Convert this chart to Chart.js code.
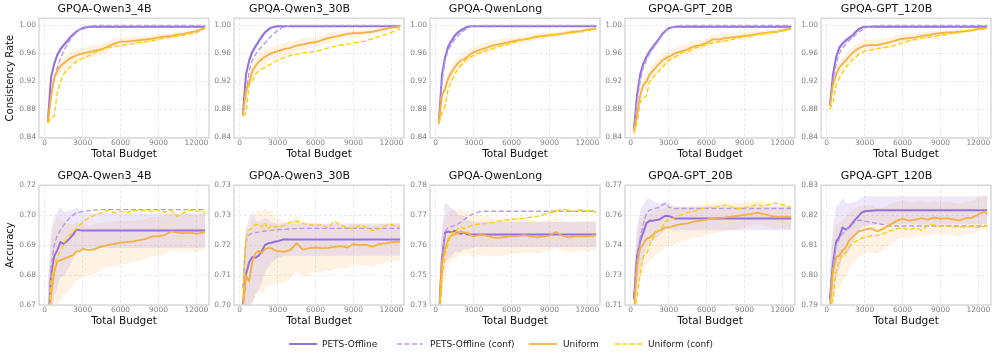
<!DOCTYPE html>
<html><head><meta charset="utf-8">
<script src="https://cdn.jsdelivr.net/npm/chart.js@4.4.0/dist/chart.umd.min.js"></script>
<style>
html,body{margin:0;padding:0;background:#fff;}
#wrap{position:relative;width:997px;height:358px;overflow:hidden;font-family:"DejaVu Sans",sans-serif;}
#wrap canvas{position:absolute;}
.lg{position:absolute;top:338px;font-size:9px;color:#222;line-height:12px;white-space:nowrap;}
.ls{position:absolute;top:339px;}
</style></head><body><div id="wrap"></div>
<script>
// ---------------- DATA ----------------
const BUDGET = [250,500,750,1000,1250,1500,1750,2000,2250,2500,2750,3000,
  3500,4000,4500,5000,5500,6000,6500,7000,7500,8000,
  8500,9000,9500,10000,10500,11000,11500,12000,12500,12700];
const X_TICKS = [0,3000,6000,9000,12000];
const SERIES_NAMES = ['PETS-Offline','PETS-Offline (conf)','Uniform','Uniform (conf)'];
const TITLES = ['GPQA-Qwen3_4B','GPQA-Qwen3_30B','GPQA-QwenLong','GPQA-GPT_20B','GPQA-GPT_120B'];

const CONS_TICKS = [0.84,0.88,0.92,0.96,1.00];
const CONS_TICK_LABELS = ['0.84','0.88','0.92','0.96','1.00'];
const ACC_TICKS_Q4B = [0.668,0.680,0.692,0.704,0.716];
const ACC_LABELS_Q4B = ['0.67','0.68','0.69','0.70','0.72'];
const ACC_TICKS_Q30B = [0.70,0.70875,0.7175,0.72625,0.735];
const ACC_LABELS_Q30B = ['0.70','0.71','0.72','0.73','0.73'];
const ACC_TICKS_QLONG = [0.735,0.745,0.755,0.765,0.775];
const ACC_LABELS_QLONG = ['0.73','0.75','0.76','0.77','0.78'];
const ACC_TICKS_G20B = [0.71,0.725,0.74,0.755,0.77];
const ACC_LABELS_G20B = ['0.71','0.73','0.74','0.76','0.77'];
const ACC_TICKS_G120B = [0.79,0.80,0.81,0.82,0.83];
const ACC_LABELS_G120B = ['0.79','0.80','0.81','0.82','0.83'];

// Consistency rate — Qwen3_4B
const C_Q4B_PETS  = [0.862,0.926,0.945,0.958,0.966,0.972,0.977,0.983,0.987,0.991,0.994,0.996, 0.998,0.998,0.998,0.998,0.998,0.998,0.998,0.998,0.998,0.998, 0.998,0.998,0.998,0.998,0.998,0.998,0.998,0.998,0.998,0.998];
const C_Q4B_PCONF = [0.862,0.900,0.925,0.940,0.953,0.963,0.972,0.979,0.985,0.990,0.994,0.997, 0.999,1.000,1.000,1.000,1.000,1.000,1.000,1.000,1.000,1.000, 1.000,1.000,1.000,1.000,1.000,1.000,1.000,1.000,1.000,1.000];
const C_Q4B_UNI   = [0.862,0.897,0.925,0.935,0.942,0.946,0.949,0.953,0.955,0.957,0.959,0.960, 0.962,0.964,0.966,0.970,0.974,0.977,0.977,0.978,0.979,0.980, 0.981,0.983,0.984,0.985,0.987,0.988,0.990,0.992,0.995,0.997];
const C_Q4B_UCONF = [0.860,0.868,0.870,0.905,0.920,0.930,0.937,0.940,0.944,0.948,0.951,0.953, 0.957,0.962,0.965,0.968,0.970,0.971,0.973,0.974,0.976,0.977, 0.978,0.980,0.982,0.983,0.985,0.986,0.988,0.990,0.994,0.996];
const C_Q4B_PBAND = [0.004,0.006,0.006,0.005,0.005,0.004,0.004,0.003,0.003,0.002,0.002,0.002, 0.001,0.001,0.001,0.001,0.001,0.001,0.001,0.001,0.001,0.001, 0.001,0.001,0.001,0.001,0.001,0.001,0.001,0.001,0.001,0.001];
const C_Q4B_UBAND = [0.006,0.008,0.009,0.009,0.009,0.009,0.009,0.009,0.009,0.009,0.009,0.009, 0.009,0.008,0.008,0.008,0.007,0.007,0.006,0.006,0.006,0.005, 0.005,0.005,0.004,0.004,0.004,0.003,0.003,0.003,0.002,0.002];

// Consistency rate — Qwen3_30B
const C_Q30B_PETS  = [0.872,0.930,0.950,0.962,0.970,0.977,0.984,0.990,0.994,0.997,0.998,0.999, 0.999,0.999,0.999,0.999,0.999,0.999,0.999,0.999,0.999,0.999, 0.999,0.999,0.999,0.999,0.999,0.999,0.999,0.999,0.999,0.999];
const C_Q30B_PCONF = [0.872,0.900,0.935,0.950,0.958,0.965,0.970,0.975,0.980,0.985,0.989,0.993, 0.998,1.000,1.000,1.000,1.000,1.000,1.000,1.000,1.000,1.000, 1.000,1.000,1.000,1.000,1.000,1.000,1.000,1.000,1.000,1.000];
const C_Q30B_UNI   = [0.872,0.909,0.918,0.935,0.942,0.948,0.952,0.955,0.958,0.960,0.962,0.963, 0.966,0.968,0.971,0.973,0.975,0.976,0.979,0.982,0.984,0.986, 0.988,0.989,0.989,0.990,0.991,0.993,0.995,0.997,0.998,0.999];
const C_Q30B_UCONF = [0.870,0.875,0.915,0.920,0.930,0.935,0.938,0.940,0.943,0.945,0.948,0.950, 0.954,0.957,0.959,0.961,0.962,0.963,0.965,0.968,0.970,0.972, 0.973,0.975,0.976,0.978,0.981,0.984,0.987,0.990,0.994,0.996];
const C_Q30B_PBAND = [0.004,0.006,0.006,0.005,0.005,0.004,0.004,0.003,0.003,0.002,0.002,0.002, 0.001,0.001,0.001,0.001,0.001,0.001,0.001,0.001,0.001,0.001, 0.001,0.001,0.001,0.001,0.001,0.001,0.001,0.001,0.001,0.001];
const C_Q30B_UBAND = [0.006,0.009,0.010,0.010,0.010,0.010,0.010,0.010,0.010,0.009,0.009,0.009, 0.009,0.009,0.008,0.008,0.008,0.007,0.007,0.007,0.006,0.006, 0.005,0.005,0.005,0.004,0.004,0.004,0.003,0.003,0.002,0.002];

// Consistency rate — QwenLong
const C_QL_PETS  = [0.860,0.930,0.955,0.970,0.978,0.985,0.990,0.993,0.996,0.998,0.999,0.999, 0.999,0.999,0.999,0.999,0.999,0.999,0.999,0.999,0.999,0.999, 0.999,0.999,0.999,0.999,0.999,0.999,0.999,0.999,0.999,0.999];
const C_QL_PCONF = [0.860,0.920,0.950,0.965,0.973,0.980,0.985,0.990,0.993,0.996,0.998,0.999, 1.000,1.000,1.000,1.000,1.000,1.000,1.000,1.000,1.000,1.000, 1.000,1.000,1.000,1.000,1.000,1.000,1.000,1.000,1.000,1.000];
const C_QL_UNI   = [0.860,0.900,0.910,0.925,0.933,0.940,0.946,0.950,0.952,0.955,0.959,0.962, 0.965,0.968,0.971,0.973,0.975,0.977,0.979,0.980,0.982,0.984, 0.985,0.986,0.987,0.988,0.990,0.991,0.992,0.994,0.995,0.996];
const C_QL_UCONF = [0.860,0.875,0.885,0.910,0.920,0.930,0.937,0.943,0.948,0.953,0.955,0.957, 0.961,0.964,0.967,0.970,0.972,0.975,0.977,0.980,0.981,0.983, 0.984,0.986,0.987,0.988,0.989,0.990,0.991,0.993,0.994,0.995];
const C_QL_PBAND = [0.004,0.006,0.006,0.005,0.004,0.004,0.003,0.003,0.002,0.002,0.001,0.001, 0.001,0.001,0.001,0.001,0.001,0.001,0.001,0.001,0.001,0.001, 0.001,0.001,0.001,0.001,0.001,0.001,0.001,0.001,0.001,0.001];
const C_QL_UBAND = [0.006,0.009,0.009,0.009,0.009,0.009,0.009,0.009,0.009,0.009,0.009,0.009, 0.008,0.008,0.008,0.007,0.007,0.006,0.006,0.006,0.005,0.005, 0.005,0.004,0.004,0.004,0.003,0.003,0.003,0.002,0.002,0.002];

// Consistency rate — GPT_20B
const C_G20B_PETS  = [0.850,0.900,0.930,0.945,0.955,0.963,0.969,0.975,0.981,0.988,0.992,0.996, 0.998,0.998,0.998,0.998,0.998,0.998,0.998,0.998,0.998,0.998, 0.998,0.998,0.998,0.998,0.998,0.998,0.998,0.998,0.998,0.998];
const C_G20B_PCONF = [0.850,0.890,0.920,0.940,0.951,0.960,0.967,0.973,0.979,0.986,0.991,0.995, 0.999,1.000,1.000,1.000,1.000,1.000,1.000,1.000,1.000,1.000, 1.000,1.000,1.000,1.000,1.000,1.000,1.000,1.000,1.000,1.000];
const C_G20B_UNI   = [0.850,0.870,0.900,0.915,0.920,0.930,0.935,0.940,0.945,0.950,0.953,0.955, 0.960,0.963,0.966,0.970,0.972,0.975,0.980,0.980,0.982,0.983, 0.984,0.985,0.986,0.988,0.989,0.990,0.991,0.993,0.995,0.996];
const C_G20B_UCONF = [0.845,0.860,0.890,0.895,0.900,0.920,0.925,0.930,0.935,0.940,0.945,0.950, 0.955,0.960,0.963,0.967,0.970,0.973,0.975,0.977,0.978,0.980, 0.982,0.984,0.985,0.987,0.988,0.990,0.991,0.992,0.994,0.995];
const C_G20B_PBAND = [0.004,0.006,0.006,0.006,0.005,0.005,0.004,0.004,0.003,0.003,0.002,0.002, 0.001,0.001,0.001,0.001,0.001,0.001,0.001,0.001,0.001,0.001, 0.001,0.001,0.001,0.001,0.001,0.001,0.001,0.001,0.001,0.001];
const C_G20B_UBAND = [0.006,0.009,0.010,0.010,0.010,0.010,0.010,0.009,0.009,0.009,0.009,0.009, 0.009,0.008,0.008,0.008,0.007,0.007,0.007,0.006,0.006,0.006, 0.005,0.005,0.005,0.004,0.004,0.004,0.003,0.003,0.002,0.002];

// Consistency rate — GPT_120B
const C_G120B_PETS  = [0.885,0.930,0.955,0.968,0.974,0.978,0.982,0.985,0.990,0.994,0.997,0.998, 0.998,0.998,0.998,0.998,0.998,0.998,0.998,0.998,0.998,0.998, 0.998,0.998,0.998,0.998,0.998,0.998,0.998,0.998,0.998,0.998];
const C_G120B_PCONF = [0.885,0.920,0.945,0.960,0.967,0.973,0.978,0.982,0.986,0.990,0.993,0.996, 0.999,1.000,1.000,1.000,1.000,1.000,1.000,1.000,1.000,1.000, 1.000,1.000,1.000,1.000,1.000,1.000,1.000,1.000,1.000,1.000];
const C_G120B_UNI   = [0.885,0.915,0.930,0.940,0.945,0.950,0.955,0.960,0.964,0.967,0.969,0.971, 0.972,0.972,0.974,0.976,0.979,0.981,0.982,0.983,0.985,0.986, 0.988,0.989,0.990,0.990,0.991,0.992,0.993,0.995,0.996,0.997];
const C_G120B_UCONF = [0.880,0.890,0.915,0.925,0.933,0.940,0.945,0.950,0.954,0.958,0.961,0.963, 0.965,0.967,0.968,0.970,0.972,0.975,0.978,0.980,0.982,0.983, 0.984,0.986,0.987,0.989,0.990,0.992,0.993,0.994,0.995,0.996];
const C_G120B_PBAND = [0.005,0.006,0.006,0.005,0.005,0.004,0.004,0.003,0.003,0.002,0.002,0.001, 0.001,0.001,0.001,0.001,0.001,0.001,0.001,0.001,0.001,0.001, 0.001,0.001,0.001,0.001,0.001,0.001,0.001,0.001,0.001,0.001];
const C_G120B_UBAND = [0.006,0.008,0.009,0.009,0.009,0.009,0.009,0.009,0.009,0.008,0.008,0.008, 0.008,0.008,0.007,0.007,0.007,0.006,0.006,0.006,0.005,0.005, 0.005,0.004,0.004,0.004,0.003,0.003,0.003,0.002,0.002,0.002];

// Accuracy — Qwen3_4B
const A_Q4B_PETS  = [0.655,0.680,0.6875,0.690,0.6932,0.6925,0.6935,0.6948,0.6962,0.6982,0.698,0.6978, 0.6978,0.6978,0.6978,0.6978,0.6978,0.6978,0.6978,0.6978,0.6978,0.6978, 0.6978,0.6978,0.6978,0.6978,0.6978,0.6978,0.6978,0.6978,0.6978,0.698];
const A_Q4B_PCONF = [0.658,0.683,0.692,0.696,0.698,0.700,0.7015,0.703,0.704,0.705,0.7052,0.7055, 0.7058,0.706,0.7062,0.7062,0.7062,0.7062,0.7062,0.7062,0.7062,0.7062, 0.7062,0.7062,0.7062,0.7062,0.7062,0.7062,0.7062,0.7062,0.7062,0.7062];
const A_Q4B_UNI   = [0.652,0.672,0.681,0.6855,0.686,0.6865,0.687,0.6875,0.688,0.6895,0.6895,0.6905, 0.690,0.6905,0.6915,0.692,0.6925,0.693,0.6932,0.6935,0.694,0.6945, 0.6955,0.6955,0.696,0.6975,0.697,0.6968,0.697,0.6965,0.697,0.6975];
const A_Q4B_UCONF = [0.655,0.677,0.684,0.687,0.690,0.692,0.695,0.696,0.6975,0.6985,0.700,0.701, 0.703,0.704,0.705,0.706,0.705,0.7055,0.705,0.706,0.7055,0.706, 0.7055,0.706,0.7052,0.706,0.7035,0.705,0.706,0.7055,0.7058,0.7045];
const A_Q4B_PBAND = [0.020,0.018,0.016,0.015,0.014,0.013,0.012,0.011,0.010,0.009,0.008,0.0075, 0.007,0.007,0.007,0.007,0.007,0.007,0.007,0.007,0.007,0.007, 0.007,0.007,0.007,0.007,0.007,0.007,0.007,0.007,0.007,0.007];
const A_Q4B_UBAND = [0.025,0.022,0.020,0.018,0.016,0.015,0.014,0.013,0.012,0.012,0.011,0.011, 0.010,0.010,0.0095,0.009,0.009,0.0088,0.0086,0.0084,0.0082,0.008, 0.008,0.0078,0.0077,0.0076,0.0075,0.0075,0.0075,0.0074,0.0073,0.0072];

// Accuracy — Qwen3_30B
const A_Q30B_PETS  = [0.700,0.709,0.7125,0.714,0.7138,0.7144,0.7158,0.7175,0.718,0.7182,0.7185,0.7186, 0.7192,0.7191,0.7191,0.7191,0.7191,0.7191,0.7191,0.7191,0.7191,0.7191, 0.7191,0.7191,0.7191,0.7191,0.7191,0.7191,0.7191,0.7191,0.7191,0.7191];
const A_Q30B_PCONF = [0.705,0.719,0.7205,0.721,0.7212,0.7213,0.7215,0.7216,0.7217,0.7218,0.7219,0.722, 0.7221,0.7222,0.7223,0.7224,0.7224,0.7224,0.7224,0.7224,0.7224,0.7224, 0.7224,0.7224,0.7224,0.7224,0.7224,0.7224,0.7224,0.7224,0.7224,0.7224];
const A_Q30B_UNI   = [0.699,0.7085,0.707,0.7125,0.7152,0.7158,0.7152,0.7163,0.7166,0.7166,0.716,0.7158, 0.7155,0.716,0.718,0.7162,0.7166,0.7168,0.7166,0.7167,0.717,0.7172, 0.7168,0.7178,0.7175,0.7176,0.717,0.7178,0.718,0.7183,0.7185,0.7184];
const A_Q30B_UCONF = [0.702,0.7195,0.722,0.7225,0.7235,0.7235,0.7228,0.724,0.722,0.7233,0.7228,0.723, 0.7232,0.7242,0.7245,0.7238,0.7235,0.7232,0.7235,0.7225,0.7245,0.7232, 0.7227,0.7222,0.7232,0.7227,0.7218,0.7222,0.7232,0.7235,0.7228,0.723];
const A_Q30B_PBAND = [0.010,0.013,0.013,0.013,0.011,0.010,0.009,0.008,0.007,0.006,0.0055,0.005, 0.0048,0.0047,0.0047,0.0047,0.0047,0.0047,0.0047,0.0047,0.0047,0.0047, 0.0047,0.0047,0.0047,0.0047,0.0047,0.0047,0.0047,0.0047,0.0047,0.0047];
const A_Q30B_UBAND = [0.012,0.015,0.014,0.013,0.012,0.012,0.012,0.012,0.011,0.011,0.010,0.0095, 0.009,0.0085,0.008,0.0078,0.0075,0.0072,0.007,0.0068,0.0066,0.0064, 0.0062,0.006,0.006,0.006,0.006,0.0058,0.0058,0.0056,0.0055,0.0055];

// Accuracy — QwenLong
const A_QL_PETS  = [0.730,0.7505,0.7592,0.7595,0.7592,0.7598,0.759,0.7588,0.7592,0.7585,0.7585,0.7585, 0.7585,0.7585,0.7585,0.7585,0.7585,0.7585,0.7585,0.7585,0.7585,0.7585, 0.7585,0.7585,0.7585,0.7585,0.7585,0.7585,0.7585,0.7585,0.7585,0.7585];
const A_QL_PCONF = [0.732,0.7495,0.7595,0.761,0.7612,0.7615,0.762,0.7627,0.7635,0.7643,0.765,0.7655, 0.7662,0.7663,0.7663,0.7663,0.7663,0.7663,0.7663,0.7663,0.7663,0.7663, 0.7663,0.7663,0.7663,0.7663,0.7663,0.7663,0.7663,0.7663,0.7663,0.7663];
const A_QL_UNI   = [0.729,0.7488,0.754,0.757,0.7582,0.7585,0.759,0.7596,0.759,0.7592,0.7584,0.7579, 0.7584,0.7582,0.7576,0.7574,0.7577,0.758,0.758,0.7583,0.7579,0.7576, 0.7578,0.7582,0.7594,0.7582,0.7576,0.7578,0.758,0.7579,0.7582,0.7583];
const A_QL_UCONF = [0.729,0.745,0.752,0.7555,0.7592,0.7587,0.7605,0.761,0.7605,0.761,0.7614,0.7618, 0.762,0.7623,0.7626,0.763,0.7633,0.7636,0.7637,0.764,0.7643,0.7645, 0.7651,0.7657,0.7662,0.7671,0.7665,0.7662,0.7668,0.7665,0.7664,0.7657];
const A_QL_PBAND = [0.010,0.011,0.010,0.009,0.008,0.007,0.0065,0.006,0.0055,0.005,0.0045,0.0043, 0.0042,0.0042,0.0042,0.0042,0.0042,0.0042,0.0042,0.0042,0.0042,0.0042, 0.0042,0.0042,0.0042,0.0042,0.0042,0.0042,0.0042,0.0042,0.0042,0.0042];
const A_QL_UBAND = [0.012,0.011,0.010,0.009,0.0085,0.008,0.0078,0.0076,0.0074,0.0072,0.007,0.007, 0.0068,0.0066,0.0064,0.0062,0.006,0.006,0.0058,0.0056,0.0055,0.0054, 0.0053,0.0052,0.0052,0.0051,0.005,0.005,0.005,0.005,0.005,0.005];

// Accuracy — GPT_20B
const A_G20B_PETS  = [0.713,0.7345,0.742,0.7465,0.751,0.7522,0.7522,0.7525,0.7528,0.7538,0.7547,0.7546, 0.7533,0.7533,0.7533,0.7533,0.7533,0.7533,0.7533,0.7533,0.7533,0.7533, 0.7533,0.7533,0.7533,0.7533,0.7533,0.7533,0.7533,0.7533,0.7533,0.7533];
const A_G20B_PCONF = [0.7125,0.732,0.744,0.7505,0.7562,0.7574,0.758,0.7585,0.7588,0.760,0.7608,0.759, 0.7583,0.7583,0.7583,0.7583,0.7583,0.7583,0.7583,0.7583,0.7583,0.7583, 0.7583,0.7583,0.7583,0.7583,0.7583,0.7583,0.7583,0.7583,0.7583,0.7583];
const A_G20B_UNI   = [0.706,0.729,0.7385,0.7405,0.7432,0.7437,0.7452,0.7465,0.7472,0.7478,0.749,0.7488, 0.7497,0.7505,0.7509,0.7518,0.7521,0.7528,0.7534,0.7536,0.7539,0.7543, 0.7546,0.7551,0.7555,0.7563,0.7556,0.7548,0.7541,0.7543,0.7541,0.7541];
const A_G20B_UCONF = [0.707,0.7135,0.7255,0.7345,0.7355,0.740,0.7435,0.7465,0.7472,0.749,0.7518,0.7528, 0.7538,0.7552,0.7562,0.757,0.758,0.7588,0.7588,0.7595,0.760,0.759, 0.7582,0.7588,0.7595,0.7602,0.7595,0.7605,0.761,0.7602,0.7592,0.7588];
const A_G20B_PBAND = [0.012,0.015,0.015,0.014,0.012,0.011,0.010,0.009,0.008,0.0075,0.007,0.0065, 0.006,0.0058,0.0058,0.0058,0.0058,0.0058,0.0058,0.0058,0.0058,0.0058, 0.0058,0.0058,0.0058,0.0058,0.0058,0.0058,0.0058,0.0058,0.0058,0.0058];
const A_G20B_UBAND = [0.015,0.016,0.015,0.014,0.013,0.012,0.012,0.011,0.011,0.010,0.010,0.0095, 0.009,0.0088,0.0085,0.0082,0.008,0.0078,0.0075,0.0072,0.007,0.0068, 0.0066,0.0064,0.0062,0.006,0.006,0.006,0.006,0.006,0.006,0.006];

// Accuracy — GPT_120B
const A_G120B_PETS  = [0.792,0.804,0.8112,0.8128,0.8158,0.8152,0.8158,0.8172,0.8185,0.8196,0.8208,0.8213, 0.8215,0.8216,0.8216,0.8216,0.8216,0.8216,0.8216,0.8216,0.8216,0.8216, 0.8216,0.8216,0.8216,0.8216,0.8216,0.8216,0.8216,0.8216,0.8216,0.8216];
const A_G120B_PCONF = [0.791,0.803,0.8098,0.812,0.8138,0.8148,0.816,0.8168,0.8177,0.8183,0.8182,0.818, 0.8176,0.8172,0.8168,0.8164,0.8164,0.8164,0.8164,0.8164,0.8164,0.8164, 0.8164,0.8164,0.8164,0.8164,0.8164,0.8164,0.8164,0.8164,0.8164,0.8164];
const A_G120B_UNI   = [0.789,0.8012,0.806,0.8065,0.8082,0.8092,0.8114,0.8125,0.8135,0.8145,0.8148,0.8152, 0.8156,0.8146,0.8155,0.8168,0.818,0.8188,0.8182,0.8185,0.819,0.8185, 0.8192,0.8188,0.819,0.8186,0.8182,0.819,0.8192,0.8202,0.8212,0.8203];
const A_G120B_UCONF = [0.788,0.7925,0.8015,0.8045,0.807,0.8075,0.8092,0.8104,0.8112,0.8116,0.8123,0.8126, 0.8131,0.8132,0.8138,0.8148,0.8153,0.8159,0.815,0.8158,0.815,0.8165, 0.8168,0.8163,0.8165,0.816,0.8162,0.8159,0.8163,0.8159,0.8162,0.8168];
const A_G120B_PBAND = [0.010,0.012,0.012,0.011,0.010,0.009,0.008,0.007,0.006,0.0055,0.005,0.005, 0.0048,0.0047,0.0047,0.0047,0.0047,0.0047,0.0047,0.0047,0.0047,0.0047, 0.0047,0.0047,0.0047,0.0047,0.0047,0.0047,0.0047,0.0047,0.0047,0.0047];
const A_G120B_UBAND = [0.012,0.012,0.011,0.011,0.010,0.010,0.0095,0.009,0.0088,0.0085,0.0082,0.008, 0.0078,0.0075,0.007,0.0068,0.0065,0.0062,0.006,0.006,0.0058,0.0056, 0.0055,0.0055,0.0055,0.0055,0.0055,0.0055,0.0055,0.0055,0.0055,0.0055];

// ---------------- PANELS (built from the arrays above) ----------------
const PANELS = [
  {row:0,col:0,yTitle:'Consistency Rate',min:0.839,max:1.0104,ticks:CONS_TICKS,labels:CONS_TICK_LABELS,s:[C_Q4B_PETS,C_Q4B_PCONF,C_Q4B_UNI,C_Q4B_UCONF],b:[C_Q4B_PBAND,C_Q4B_UBAND]},
  {row:0,col:1,yTitle:'',min:0.839,max:1.0104,ticks:CONS_TICKS,labels:CONS_TICK_LABELS,s:[C_Q30B_PETS,C_Q30B_PCONF,C_Q30B_UNI,C_Q30B_UCONF],b:[C_Q30B_PBAND,C_Q30B_UBAND]},
  {row:0,col:2,yTitle:'',min:0.839,max:1.0104,ticks:CONS_TICKS,labels:CONS_TICK_LABELS,s:[C_QL_PETS,C_QL_PCONF,C_QL_UNI,C_QL_UCONF],b:[C_QL_PBAND,C_QL_UBAND]},
  {row:0,col:3,yTitle:'',min:0.839,max:1.0104,ticks:CONS_TICKS,labels:CONS_TICK_LABELS,s:[C_G20B_PETS,C_G20B_PCONF,C_G20B_UNI,C_G20B_UCONF],b:[C_G20B_PBAND,C_G20B_UBAND]},
  {row:0,col:4,yTitle:'',min:0.839,max:1.0104,ticks:CONS_TICKS,labels:CONS_TICK_LABELS,s:[C_G120B_PETS,C_G120B_PCONF,C_G120B_UNI,C_G120B_UCONF],b:[C_G120B_PBAND,C_G120B_UBAND]},
  {row:1,col:0,yTitle:'Accuracy',min:0.668,max:0.716,ticks:ACC_TICKS_Q4B,labels:ACC_LABELS_Q4B,s:[A_Q4B_PETS,A_Q4B_PCONF,A_Q4B_UNI,A_Q4B_UCONF],b:[A_Q4B_PBAND,A_Q4B_UBAND]},
  {row:1,col:1,yTitle:'',min:0.70,max:0.735,ticks:ACC_TICKS_Q30B,labels:ACC_LABELS_Q30B,s:[A_Q30B_PETS,A_Q30B_PCONF,A_Q30B_UNI,A_Q30B_UCONF],b:[A_Q30B_PBAND,A_Q30B_UBAND]},
  {row:1,col:2,yTitle:'',min:0.735,max:0.775,ticks:ACC_TICKS_QLONG,labels:ACC_LABELS_QLONG,s:[A_QL_PETS,A_QL_PCONF,A_QL_UNI,A_QL_UCONF],b:[A_QL_PBAND,A_QL_UBAND]},
  {row:1,col:3,yTitle:'',min:0.71,max:0.77,ticks:ACC_TICKS_G20B,labels:ACC_LABELS_G20B,s:[A_G20B_PETS,A_G20B_PCONF,A_G20B_UNI,A_G20B_UCONF],b:[A_G20B_PBAND,A_G20B_UBAND]},
  {row:1,col:4,yTitle:'',min:0.79,max:0.83,ticks:ACC_TICKS_G120B,labels:ACC_LABELS_G120B,s:[A_G120B_PETS,A_G120B_PCONF,A_G120B_UNI,A_G120B_UCONF],b:[A_G120B_PBAND,A_G120B_UBAND]}
];

// ---------------- STYLE ----------------
const FONT = '"DejaVu Sans", sans-serif';
const C_PETS = '#9370DB', C_PCONF = '#B59DE6', C_UNI = '#F5B041', C_UCONF = '#FFCF00';
const F_PETS = 'rgba(147,112,219,0.17)', F_UNI = 'rgba(245,176,65,0.15)';
const LINE_STYLE = [
  {color:C_PETS,  width:2.0, dash:[]},
  {color:C_PCONF, width:1.4, dash:[5,2.5]},
  {color:C_UNI,   width:1.8, dash:[]},
  {color:C_UCONF, width:1.4, dash:[5,2.5]}
];

const framePlugin = {
  id:'frame',
  afterDraw(chart){
    const a = chart.chartArea, ctx = chart.ctx;
    ctx.save();
    ctx.strokeStyle = '#d6d6d6';
    ctx.lineWidth = 1.4;
    ctx.strokeRect(a.left, a.top, a.right - a.left, a.bottom - a.top);
    ctx.restore();
  }
};

const wrap = document.getElementById('wrap');
const CW = 213, CH = 168;

PANELS.forEach(p => {
  const cv = document.createElement('canvas');
  cv.width = CW; cv.height = CH;
  cv.style.width = CW + 'px'; cv.style.height = CH + 'px';
  cv.style.left = Math.round(p.col * 195.4) + 'px';
  cv.style.top = (p.row === 0 ? 0 : 167) + 'px';
  wrap.appendChild(cv);

  const pts = arr => BUDGET.map((x, i) => ({x, y: arr[i]}));
  const hi = (m, w) => BUDGET.map((x, i) => ({x, y: m[i] + w[i]}));
  const lo = (m, w) => BUDGET.map((x, i) => ({x, y: m[i] - w[i]}));

  const datasets = [];
  [3,2,1,0].forEach(k => {
    const st = LINE_STYLE[k];
    datasets.push({
      label: SERIES_NAMES[k], data: pts(p.s[k]), borderColor: st.color, borderWidth: st.width,
      borderDash: st.dash, pointRadius: 0, tension: 0, fill: false, clip: 0, order: 3 - k
    });
  });
  datasets.push({label:'pb_hi', data: hi(p.s[0], p.b[0]), borderWidth:0, pointRadius:0, fill:false, clip:0, order:10});
  datasets.push({label:'pb_lo', data: lo(p.s[0], p.b[0]), borderWidth:0, pointRadius:0, fill:'-1', backgroundColor:F_PETS, clip:0, order:10});
  datasets.push({label:'ub_hi', data: hi(p.s[2], p.b[1]), borderWidth:0, pointRadius:0, fill:false, clip:0, order:11});
  datasets.push({label:'ub_lo', data: lo(p.s[2], p.b[1]), borderWidth:0, pointRadius:0, fill:'-1', backgroundColor:F_UNI, clip:0, order:11});

  new Chart(cv, {
    type: 'line',
    data: {datasets},
    plugins: [framePlugin],
    options: {
      responsive: false, animation: false, devicePixelRatio: 1,
      layout: {padding: {top: 3, right: 4, bottom: 4, left: 0}},
      plugins: {
        legend: {display: false}, tooltip: {enabled: false},
        filler: {drawTime: 'beforeDatasetsDraw'},
        title: {display: true, text: TITLES[p.col], color: '#111',
          font: {family: FONT, size: 11, weight: 'normal'}, padding: {top: 0, bottom: 2}}
      },
      scales: {
        x: {
          type: 'linear', min: -450, max: 13000,
          afterBuildTicks: s => { s.ticks = X_TICKS.map(v => ({value: v})); },
          afterFit: s => { s.height = 26; },
          ticks: {font: {family: FONT, size: 7.5}, color: '#808080', padding: 1, maxRotation: 0,
            callback: v => String(v)},
          grid: {color: '#e4e4e4', lineWidth: 0.8, drawTicks: false},
          border: {display: false, dash: [3, 2]},
          title: {display: true, text: 'Total Budget', color: '#111',
            font: {family: FONT, size: 10.5}, padding: {top: 0, bottom: 3.5}}
        },
        y: {
          type: 'linear', min: p.min, max: p.max,
          afterBuildTicks: s => { s.ticks = p.ticks.map(v => ({value: v})); },
          afterFit: s => { s.width = 39; },
          ticks: {font: {family: FONT, size: 7.5}, color: '#808080', padding: 3,
            callback: (v, i) => p.labels[i]},
          grid: {color: '#e4e4e4', lineWidth: 0.8, drawTicks: false},
          border: {display: false, dash: [3, 2]},
          title: {display: !!p.yTitle, text: p.yTitle, color: '#111',
            font: {family: FONT, size: 10}, padding: {top: 4, bottom: 0}}
        }
      }
    }
  });
});

// ---------------- LEGEND (HTML) ----------------
const LEG = [
  {x1: 289, x2: 317, tx: 322, st: LINE_STYLE[0]},
  {x1: 397, x2: 423, tx: 430, st: LINE_STYLE[1]},
  {x1: 529, x2: 557, tx: 563, st: LINE_STYLE[2]},
  {x1: 615, x2: 642, tx: 648, st: LINE_STYLE[3]}
];
LEG.forEach((l, i) => {
  const w = l.x2 - l.x1;
  const svgNS = 'http://www.w3.org/2000/svg';
  const svg = document.createElementNS(svgNS, 'svg');
  svg.setAttribute('width', w); svg.setAttribute('height', 10);
  svg.setAttribute('class', 'ls');
  svg.style.left = l.x1 + 'px';
  const ln = document.createElementNS(svgNS, 'line');
  ln.setAttribute('x1', 0); ln.setAttribute('x2', w);
  ln.setAttribute('y1', 5); ln.setAttribute('y2', 5);
  ln.setAttribute('stroke', l.st.color); ln.setAttribute('stroke-width', l.st.width);
  if (l.st.dash.length) ln.setAttribute('stroke-dasharray', l.st.dash.join(','));
  svg.appendChild(ln);
  wrap.appendChild(svg);
  const t = document.createElement('div');
  t.className = 'lg'; t.style.left = l.tx + 'px';
  t.textContent = SERIES_NAMES[i];
  wrap.appendChild(t);
});
</script>
</body></html>
